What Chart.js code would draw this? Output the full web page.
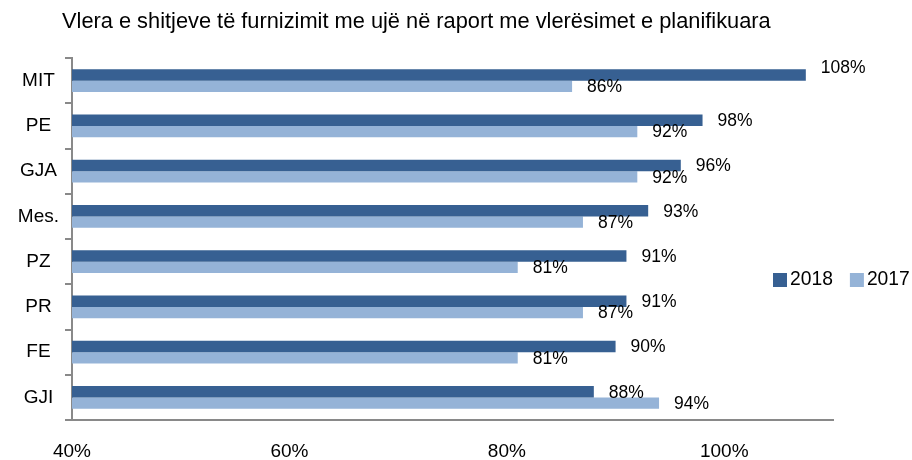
<!DOCTYPE html>
<html>
<head>
<meta charset="utf-8">
<title>Vlera e shitjeve</title>
<script src="https://cdn.jsdelivr.net/npm/chart.js@4.4.1/dist/chart.umd.min.js"></script>
<style>
  html, body { margin: 0; padding: 0; background: #fff; }
  #wrap { width: 912px; height: 460px; position: relative; }
</style>
</head>
<body>
<div id="wrap"><canvas id="canvasSales"></canvas></div>
<script>
var categories = ['MIT', 'PE', 'GJA', 'Mes.', 'PZ', 'PR', 'FE', 'GJI'];
var values2018 = [107.5, 98, 96, 93, 91, 91, 90, 88];
var values2017 = [86, 92, 92, 87, 81, 87, 81, 94];
var seriesNames = ['2018', '2017'];
var xTicks = [40, 60, 80, 100];
var xMin = 40;
var xMax = 110;
var chartTitle = 'Vlera e shitjeve të furnizimit me ujë në raport me vlerësimet e planifikuara';

var FONT = "'Liberation Sans', Arial, sans-serif";
var axisColor = '#898989';

// value labels to the right of every bar
var barLabels = {
    id: 'barLabels',
    afterDatasetsDraw: function(chart, args, opts) {
        var ctx = chart.ctx;
        ctx.save();
        ctx.font = opts.size + 'px ' + FONT;
        ctx.fillStyle = opts.color;
        ctx.textAlign = 'left';
        ctx.textBaseline = 'middle';
        chart.data.datasets.forEach(function(ds, di) {
            chart.getDatasetMeta(di).data.forEach(function(bar, i) {
                var dy = opts.dy;
                opts.nudge.forEach(function(n) {
                    if (n.dataset === di && n.index === i) dy += n.dy;
                });
                ctx.fillText(Math.round(ds.data[i]) + '%', bar.x + opts.dx, bar.y + dy);
            });
        });
        ctx.restore();
    }
};

// title top left, legend in one row on the right
var header = {
    id: 'header',
    afterDraw: function(chart, args, opts) {
        var ctx = chart.ctx;
        ctx.save();
        ctx.fillStyle = '#000';
        ctx.textBaseline = 'middle';
        ctx.textAlign = 'left';
        ctx.font = opts.titleSize + 'px ' + FONT;
        ctx.fillText(chartTitle, opts.titleX, opts.titleY);

        ctx.font = opts.legendSize + 'px ' + FONT;
        var x = opts.legendX;
        var y = opts.legendY;
        chart.data.datasets.forEach(function(ds) {
            ctx.fillStyle = ds.backgroundColor;
            ctx.fillRect(x, y - opts.box / 2, opts.box, opts.box);
            x += opts.box + 3;
            ctx.fillStyle = '#000';
            ctx.fillText(ds.label, x, y);
            x += ctx.measureText(ds.label).width + 17;
        });
        ctx.restore();
    }
};

var ctx = document.getElementById('canvasSales').getContext('2d');
var chart = new Chart(ctx, {
    type: 'bar',
    data: {
        labels: categories,
        datasets: [
            {
                label: seriesNames[0],
                data: values2018,
                backgroundColor: '#376092',
                base: xMin,
                categoryPercentage: 0.5,
                barPercentage: 1.0
            },
            {
                label: seriesNames[1],
                data: values2017,
                backgroundColor: '#95B3D7',
                base: xMin,
                categoryPercentage: 0.5,
                barPercentage: 1.0
            }
        ]
    },
    options: {
        indexAxis: 'y',
        responsive: true,
        maintainAspectRatio: false,
        animation: false,
        layout: { padding: { top: 58, right: 79, left: 0, bottom: 0 } },
        plugins: {
            legend: { display: false },
            title: { display: false },
            tooltip: { enabled: false },
            barLabels: { size: 17.5, color: '#000', dx: 15, dy: 1, nudge: [{ dataset: 0, index: 0, dy: -8 }] },
            header: { titleSize: 21.8, titleX: 62, titleY: 22, legendSize: 19.3, legendX: 773, legendY: 280, box: 14 }
        },
        scales: {
            x: {
                type: 'linear',
                min: xMin,
                max: xMax,
                afterBuildTicks: function(scale) {
                    scale.ticks = xTicks.map(function(v) { return { value: v }; });
                },
                afterFit: function(scale) { scale.height = 40; },
                grid: { display: false },
                border: { display: true, color: axisColor, width: 2 },
                ticks: {
                    padding: 12,
                    color: '#000',
                    font: { family: FONT, size: 19 },
                    callback: function(v) { return v + '%'; }
                }
            },
            y: {
                afterFit: function(scale) { scale.width = 72; },
                grid: {
                    display: true,
                    drawOnChartArea: false,
                    drawTicks: true,
                    tickLength: 7,
                    offset: true,
                    color: axisColor,
                    lineWidth: 2
                },
                border: { display: true, color: axisColor, width: 2 },
                ticks: {
                    padding: 6,
                    crossAlign: 'center',
                    color: '#000',
                    font: { family: FONT, size: 19 }
                }
            }
        }
    },
    plugins: [barLabels, header]
});
</script>
</body>
</html>
